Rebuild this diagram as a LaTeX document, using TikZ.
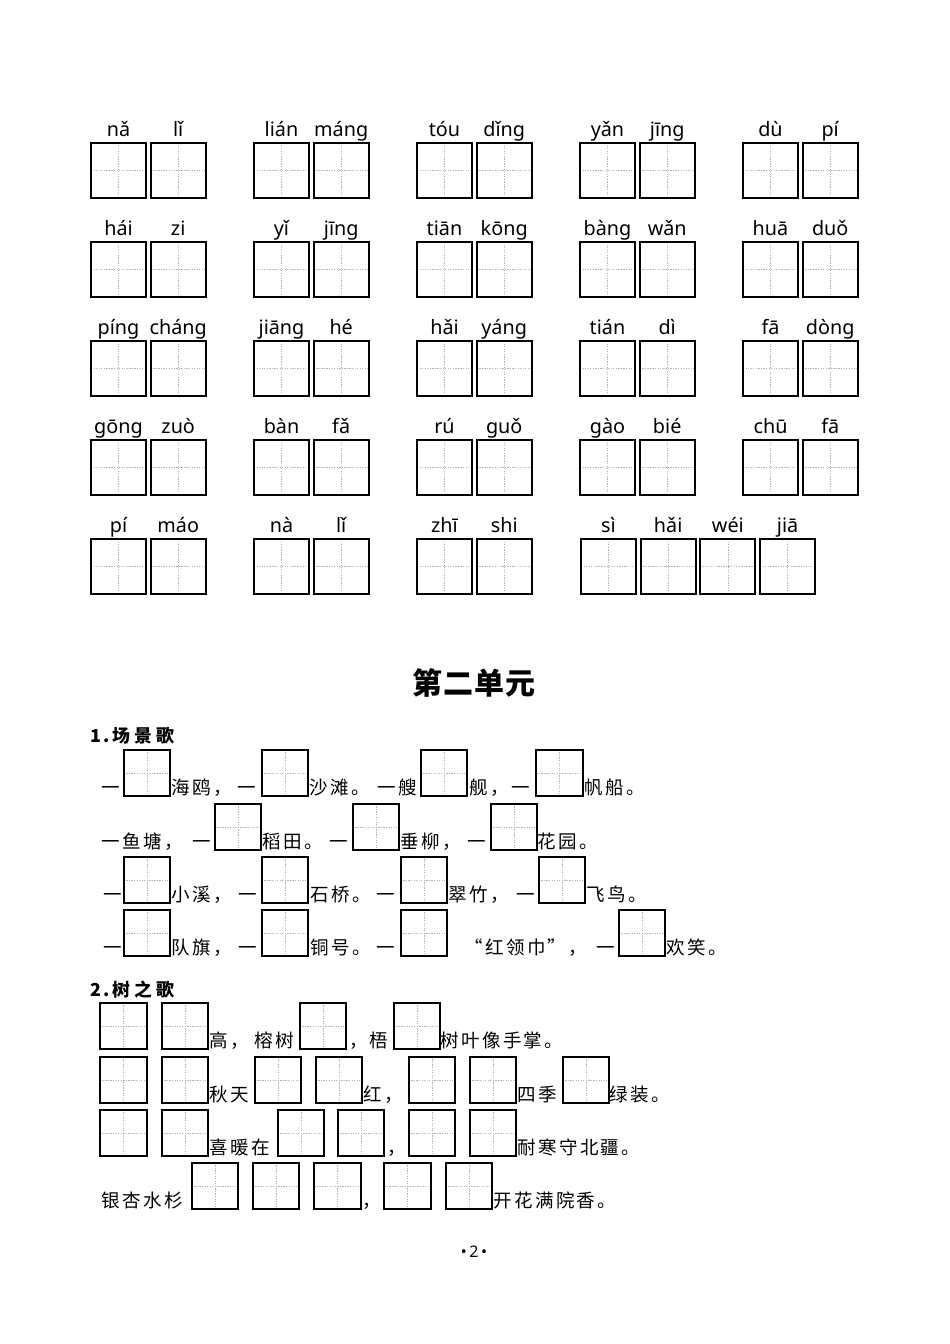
\documentclass[tikz,border=0pt]{standalone}
\usepackage{fontspec}
\setmainfont{Noto Sans}
\newfontfamily\pyfont{Noto Sans}
\newfontfamily\cjk[LetterSpace=13]{Noto Sans CJK SC}
\newfontfamily\cjkh[LetterSpace=22]{Noto Sans CJK SC}
\newfontfamily\cjkt[LetterSpace=4]{Noto Sans CJK SC}
\def\pu{0.6266pt}
\tikzset{
  cell/.style={draw, line width=1.15pt, inner sep=0pt, outer sep=0pt,
    minimum size={55*\pu},
    path picture={\draw[black!30, line width=0.35pt, dash pattern=on 0.8pt off 0.8pt]
      (path picture bounding box.north) -- (path picture bounding box.south)
      (path picture bounding box.west) -- (path picture bounding box.east);}},
  smallcell/.style={cell, minimum size={46.5*\pu}, line width=1pt},
  pinyin/.style={font=\pyfont\fontsize{12.4pt}{14pt}\selectfont, inner sep=0pt, anchor=base},
  hanzi/.style={font=\cjk\fontsize{11.6pt}{14pt}\selectfont, inner sep=0pt, anchor=base west},
  heading/.style={font=\cjk\bfseries\fontsize{11.2pt}{14pt}\selectfont, inner sep=0pt, anchor=base west},
}
\begin{document}
\begin{tikzpicture}[x=\pu, y=-\pu]
  \useasboundingbox (0,0) rectangle (950,1344);
  % pinyin grid
  \foreach \r/\row in {1/{nǎ,lǐ,lián,máng,tóu,dǐng,yǎn,jīng,dù,pí},
                       2/{hái,zi,yǐ,jīng,tiān,kōng,bàng,wǎn,huā,duǒ},
                       3/{píng,cháng,jiāng,hé,hǎi,yáng,tián,dì,fā,dòng},
                       4/{gōng,zuò,bàn,fǎ,rú,guǒ,gào,bié,chū,fā}}{
    \foreach \p [count=\i] in \row {
      \pgfmathsetmacro\bx{118.5+163*floor((\i-1)/2)+59.7*mod(\i-1,2)}
      \pgfmathsetmacro\by{170.5+99*(\r-1)}
      \node[cell] (b\r-\i) at (\bx,\by) {};
      \node[pinyin] (p\r-\i) at ([yshift=7*\pu]b\r-\i.north) {\p};
    }
  }
  \foreach \bx/\p [count=\i] in {118.5/pí,178.2/máo,281.5/nà,341.2/lǐ,444.5/zhī,
                                 504.2/shi,608.5/sì,668.2/hǎi,727.9/wéi,787.6/jiā}{
    \node[cell] (b5-\i) at (\bx,566.5) {};
    \node[pinyin] (p5-\i) at ([yshift=7*\pu]b5-\i.north) {\p};
  }

  \node[font=\cjkt\bfseries\fontsize{18.8pt}{22pt}\selectfont, inner sep=0pt, anchor=base]
    (title) at (474,694) {第二单元};

  % 1. scene song
  \node[heading] (h1) at (90,742) {1.\,{\cjkh 场景歌}};
  \foreach \x [count=\i] in {147,285,444,559.5}
    \node[smallcell] (a\i) at (\x,773) {};
  \node[hanzi] (a1t1) at (101,794) {一};
  \node[hanzi] (a1t2) at (171,794) {海鸥，};
  \node[hanzi] (a1t3) at (237,794) {一};
  \node[hanzi] (a1t4) at (309,794) {沙滩。};
  \node[hanzi] (a1t5) at (377,794) {一艘};
  \node[hanzi] (a1t6) at (469,794) {舰，};
  \node[hanzi] (a1t7) at (511,794) {一};
  \node[hanzi] (a1t8) at (584,794) {帆船。};

  \foreach \x [count=\i] in {238,376,514}
    \node[smallcell] (c\i) at (\x,827) {};
  \node[hanzi] (a2t1) at (101,848) {一鱼塘，};
  \node[hanzi] (a2t2) at (192,848) {一};
  \node[hanzi] (a2t3) at (262,848) {稻田。};
  \node[hanzi] (a2t4) at (329,848) {一};
  \node[hanzi] (a2t5) at (400,848) {垂柳，};
  \node[hanzi] (a2t6) at (467,848) {一};
  \node[hanzi] (a2t7) at (537,848) {花园。};

  \foreach \x [count=\i] in {147,285,424,562}
    \node[smallcell] (d\i) at (\x,880) {};
  \node[hanzi] (a3t1) at (103,901) {一};
  \node[hanzi] (a3t2) at (171,901) {小溪，};
  \node[hanzi] (a3t3) at (238,901) {一};
  \node[hanzi] (a3t4) at (310,901) {石桥。};
  \node[hanzi] (a3t5) at (376,901) {一};
  \node[hanzi] (a3t6) at (448,901) {翠竹，};
  \node[hanzi] (a3t7) at (516,901) {一};
  \node[hanzi] (a3t8) at (586,901) {飞鸟。};

  \foreach \x [count=\i] in {147,285,424,642}
    \node[smallcell] (e\i) at (\x,933) {};
  \node[hanzi] (a4t1) at (103,954) {一};
  \node[hanzi] (a4t2) at (171,954) {队旗，};
  \node[hanzi] (a4t3) at (238,954) {一};
  \node[hanzi] (a4t4) at (310,954) {铜号。};
  \node[hanzi] (a4t5) at (376,954) {一};
  \node[hanzi] (a4t6) at (464,954) {“红领巾”，};
  \node[hanzi] (a4t7) at (596,954) {一};
  \node[hanzi] (a4t8) at (666,954) {欢笑。};

  % 2. tree song
  \node[heading] (h2) at (90,996) {2.\,{\cjkh 树之歌}};
  \foreach \x [count=\i] in {123.5,185,323,417}
    \node[smallcell] (f\i) at (\x,1026) {};
  \node[hanzi] (b1t1) at (209,1047) {高，};
  \node[hanzi] (b1t2) at (254,1047) {榕树};
  \node[hanzi] (b1t3) at (349,1047) {，};
  \node[hanzi] (b1t4) at (369,1047) {梧};
  \node[hanzi] (b1t5) at (440,1047) {树叶像手掌。};

  \foreach \x [count=\i] in {123.5,185,278,339,432,493,586}
    \node[smallcell] (g\i) at (\x,1080) {};
  \node[hanzi] (b2t1) at (209,1101) {秋天};
  \node[hanzi] (b2t2) at (363,1101) {红，};
  \node[hanzi] (b2t3) at (517,1101) {四季};
  \node[hanzi] (b2t4) at (609,1101) {绿装。};

  \foreach \x [count=\i] in {123.5,185,301,361,432,493}
    \node[smallcell] (k\i) at (\x,1133) {};
  \node[hanzi] (b3t1) at (209,1154) {喜暖在};
  \node[hanzi] (b3t2) at (387,1154) {，};
  \node[hanzi] (b3t3) at (517,1154) {耐寒守北疆。};

  \foreach \x [count=\i] in {215,276,337.5,407.5,469}
    \node[smallcell] (m\i) at (\x,1186) {};
  \node[hanzi] (b4t1) at (101,1207) {银杏水杉};
  \node[hanzi] (b4t2) at (362,1207) {，};
  \node[hanzi] (b4t3) at (493,1207) {开花满院香。};

  \node[font=\pyfont\fontsize{10pt}{12pt}\selectfont, inner sep=0pt, anchor=base]
    (page) at (474,1257) {•\,2\,•};
\end{tikzpicture}
\end{document}
